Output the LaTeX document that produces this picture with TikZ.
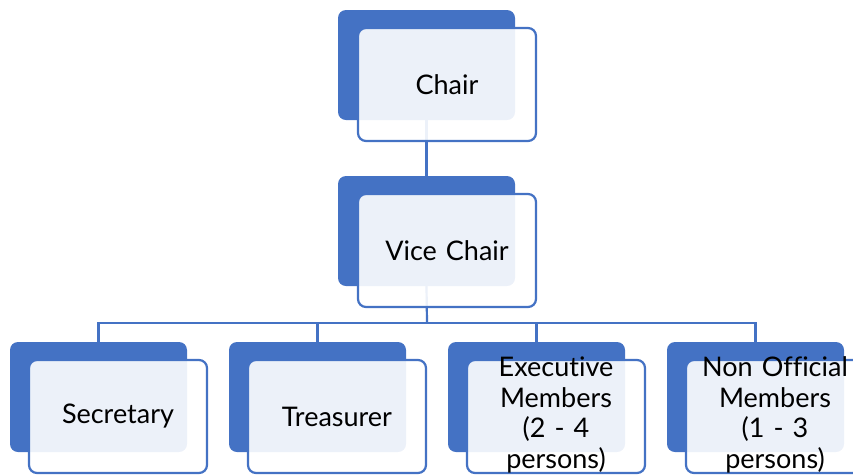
\documentclass[tikz,border=0pt]{standalone}
\usepackage{fontspec}
\setmainfont{Lato}[Ligatures={NoCommon}]
\definecolor{accent}{HTML}{4472C4}
\begin{document}
\begin{tikzpicture}[x=1pt,y=-1pt,
  backbox/.style={fill=accent, rounded corners=8pt, minimum width=177pt, minimum height=110pt, anchor=north west, inner sep=0pt, outer sep=0pt},
  frontbox/.style={draw=accent, line width=2.2pt, fill=white, fill opacity=0.9, rounded corners=8pt, minimum width=178pt, minimum height=113pt, anchor=north west, inner sep=0pt, outer sep=0pt},
  lbl/.style={font=\fontsize{27}{30.5}\selectfont, align=center, text width=150pt, inner sep=0pt},
  link/.style={draw=accent, line width=2.2pt}]
\useasboundingbox (0,0) rectangle (853,475);
% back boxes
\node[backbox] (chairB) at (338,10) {};
\node[backbox] (viceB) at (338,176) {};
\node[backbox] (secB) at (10,342) {};
\node[backbox] (treB) at (229,342) {};
\node[backbox] (exeB) at (448,342) {};
\node[backbox] (nonB) at (667,342) {};
% connectors
\coordinate (bus) at (427,323);
\draw[link] (chairB.south) -- (viceB.north);
\draw[link] (viceB.south) -- (bus);
\draw[link] (bus) -| (secB.north);
\draw[link] (bus) -| (treB.north);
\draw[link] (bus) -| (exeB.north);
\draw[link] (bus) -| (nonB.north);
% front boxes
\node[frontbox] (chairF) at (358,28) {};
\node[frontbox] (viceF) at (358,194) {};
\node[frontbox] (secF) at (29,360) {};
\node[frontbox] (treF) at (248,360) {};
\node[frontbox] (exeF) at (467,360) {};
\node[frontbox] (nonF) at (686,360) {};
% labels
\node[lbl] (chairL) at (chairF.center) {Chair};
\node[lbl] (viceL) at (viceF.center) {Vice Chair};
\node[lbl] (secL) at (secF.center) {Secretary};
\node[lbl] (treL) at (treF.center) {Treasurer};
\node[lbl] (exeL) at ([yshift=1.5pt]exeF.center) {Executive\\Members\\(2 - 4\\persons)};
\node[lbl] (nonL) at ([yshift=1.5pt]nonF.center) {Non Official\\Members\\(1 - 3\\persons)};
\end{tikzpicture}
\end{document}
